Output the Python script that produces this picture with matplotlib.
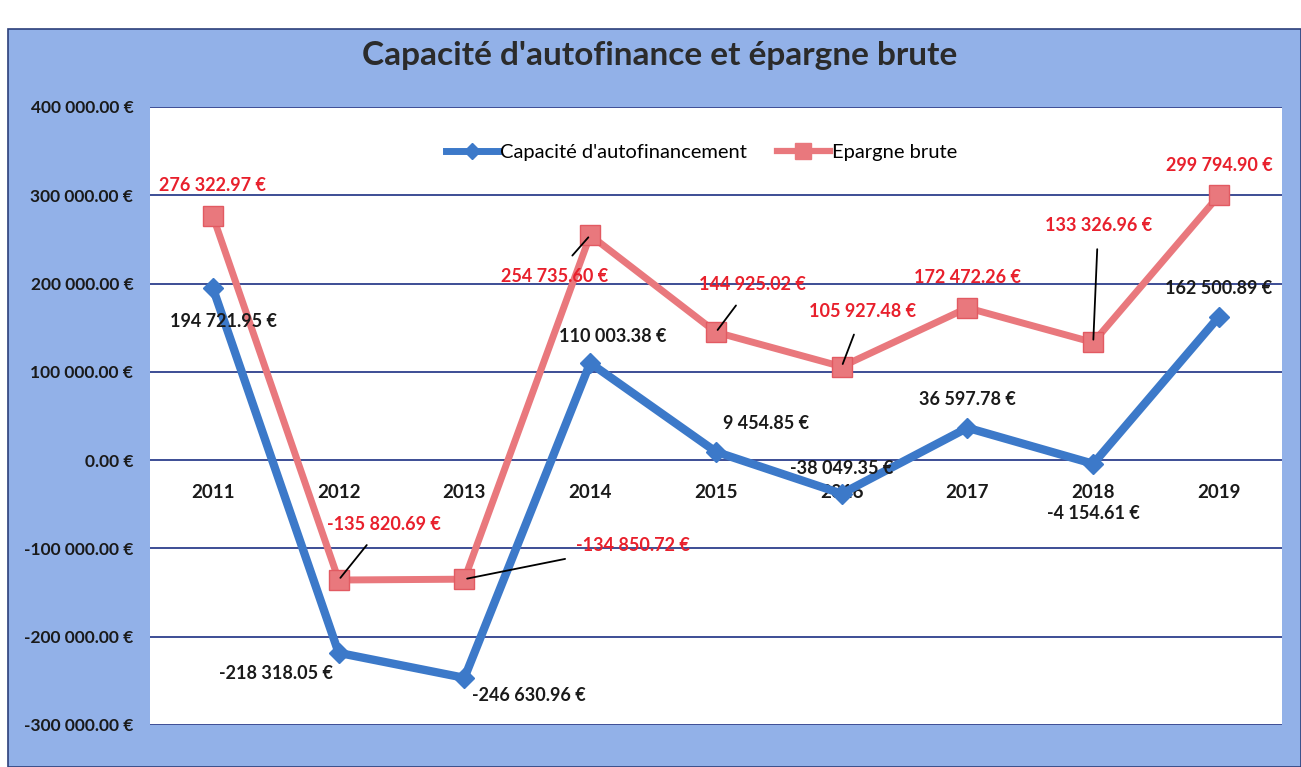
import numpy as np
import matplotlib.pyplot as plt
from matplotlib.patches import Rectangle
from matplotlib.lines import Line2D

plt.rcParams['font.family'] = ['Lato', 'DejaVu Sans']

years = ['2011', '2012', '2013', '2014', '2015', '2016', '2017', '2018', '2019']
caf = [194721.95, -218318.05, -246630.96, 110003.38, 9454.85, -38049.35, 36597.78, -4154.61, 162500.89]
epargne = [276322.97, -135820.69, -134850.72, 254735.60, 144925.02, 105927.48, 172472.26, 133326.96, 299794.90]

# label offsets in pixels (dx, dy) and leader line flag
caf_off = [(11, -33), (-63, -21), (64, -18), (23, 27), (50, 28), (0, 25), (0, 28), (0, -50), (0, 28)]
ep_off = [(0, 31), (45, 56), (169, 34), (-36, -41), (36, 48), (21, 55), (0, 30), (5, 117), (0, 30)]
ep_leader = [False, True, True, True, True, True, False, True, False]

blue = '#3c79c9'
red = '#e9787d'


def euro(v):
    return '{:,.2f}'.format(v).replace(',', ' ') + ' €'


fig = plt.figure(figsize=(13.01, 7.67), dpi=100)
fig.patch.set_facecolor('white')
bg = Rectangle((0.006, 0), 0.994, 0.962, transform=fig.transFigure,
               facecolor='#92b1e8', edgecolor='#2c3f7a', lw=1.2, zorder=-10)
fig.patches.append(bg)

ax = fig.add_axes([0.1153, 0.0548, 0.87, 0.8057])
ax.set_facecolor('white')
ax.spines['bottom'].set_position(('data', 0))
for s in ax.spines.values():
    s.set_visible(False)
x = np.arange(len(years))

ax.plot(x, caf, color=blue, lw=6, marker='D', markersize=10, zorder=4,
        solid_joinstyle='miter')
ax.plot(x, epargne, color=red, lw=5, marker='s', markersize=15,
        markeredgecolor='#e25a62', markeredgewidth=1, zorder=3)

ax.set_xlim(-0.5, len(years) - 0.5)
ax.set_ylim(-300000, 400000)
ax.set_yticks(np.arange(-300000, 400001, 100000))
ax.set_yticklabels([euro(v) for v in np.arange(-300000, 400001, 100000)],
                   fontsize=12.5, fontweight='bold', color='#1a1a1a')
ax.grid(axis='y', color='#2d3f8c', lw=1.3, zorder=1)
ax.set_axisbelow(True)
ax.tick_params(axis='y', length=0, pad=12)

ax.set_xticks(x)
ax.set_xticklabels(years, fontsize=13.5, fontweight='bold', color='#1a1a1a')
ax.tick_params(axis='x', length=0, pad=17)

for i, v in enumerate(caf):
    dx, dy = caf_off[i]
    ax.annotate(euro(v), (i, v), xytext=(dx, dy), textcoords='offset pixels',
                ha='center', va='center', fontsize=13, fontweight='bold',
                color='#1a1a1a', zorder=6)

for i, v in enumerate(epargne):
    dx, dy = ep_off[i]
    props = None
    if ep_leader[i]:
        props = dict(arrowstyle='-', color='black', lw=1.3, shrinkA=9, shrinkB=2)
    ax.annotate(euro(v), (i, v), xytext=(dx, dy), textcoords='offset pixels',
                ha='center', va='center', fontsize=13, fontweight='bold',
                color='#e8202c', arrowprops=props, zorder=6)

handles = [Line2D([], [], color=blue, lw=5, marker='D', markersize=8),
           Line2D([], [], color=red, lw=4.5, marker='s', markersize=11)]
ax.legend(handles, ['Capacité d\'autofinancement', 'Epargne brute'],
          loc='center', bbox_to_anchor=(0.487, 0.926), ncol=2, frameon=False,
          fontsize=14.5, handlelength=2.6, handletextpad=0.1, columnspacing=1.5)

fig.text(0.507, 0.928, 'Capacité d\'autofinance et épargne brute', ha='center', va='center',
         fontsize=24, fontweight='bold', color='#2b2b2b')

fig.savefig('out.png', dpi=100)
